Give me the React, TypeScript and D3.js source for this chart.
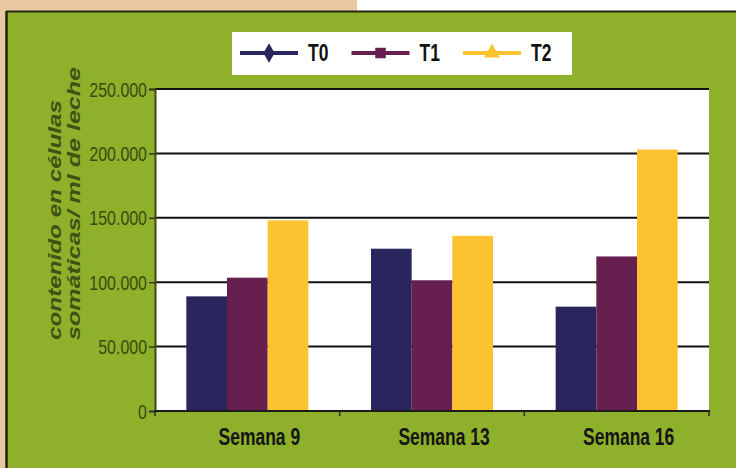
import { useEffect, useRef } from 'react';
import * as d3 from 'd3';

// ── Data ────────────────────────────────────────────────────────────────────
const categories = ['Semana 9', 'Semana 13', 'Semana 16'];
const series = ['T0', 'T1', 'T2'];
const t0Values = [89000, 126000, 81000];
const t1Values = [103500, 101500, 120000];
const t2Values = [148000, 136000, 203000];
const yTicks = [0, 50000, 100000, 150000, 200000, 250000];
const yTitle = ['contenido en células', 'somáticas/ ml de leche'];

const COLORS: Record<string, string> = { T0: '#29265e', T1: '#661f4e', T2: '#fcc230' };
const W = 736;
const H = 468;
const FONT = "'Liberation Sans', Arial, sans-serif";
const NARROW = 0.76; // horizontal squeeze to mimic Arial Narrow

const fmtTick = (v: number) => (v === 0 ? '0' : d3.format(',')(v).replace(/,/g, '.'));

export default function App() {
  const svgRef = useRef<SVGSVGElement>(null);

  useEffect(() => {
    if (!svgRef.current) return;
    document.body.style.margin = '0';
    const svg = d3.select(svgRef.current);
    svg.selectAll('*').remove();

    // ── Background (scan frame + green panel) ───────────────────────────────
    svg.append('rect').attr('width', W).attr('height', H).attr('fill', '#ffffff');
    svg.append('rect').attr('x', 0).attr('y', 0).attr('width', 357).attr('height', 12).attr('fill', '#e9c9a2');
    svg.append('rect').attr('x', 0).attr('y', 0).attr('width', 7).attr('height', H).attr('fill', '#e9c9a2');
    svg.append('rect').attr('x', 7).attr('y', 12).attr('width', W - 7).attr('height', H - 12).attr('fill', '#8fb02b');
    svg.append('line').attr('x1', 6).attr('x2', W).attr('y1', 11.5).attr('y2', 11.5)
      .attr('stroke', '#23240e').attr('stroke-width', 2);
    svg.append('line').attr('x1', 6.5).attr('x2', 6.5).attr('y1', 11).attr('y2', H)
      .attr('stroke', '#23240e').attr('stroke-width', 2.5);

    // ── Scales ──────────────────────────────────────────────────────────────
    const M = { left: 155, right: 709, top: 89, bottom: 411 };
    const x0 = d3.scaleBand<string>().domain(categories).range([M.left, M.right]);
    const x1 = d3.scaleBand<string>().domain(series).range([0, x0.bandwidth()])
      .paddingInner(0).paddingOuter(0.77);
    const y = d3.scaleLinear().domain([0, 250000]).range([M.bottom, M.top]);

    // plot area
    svg.append('rect')
      .attr('x', M.left).attr('y', M.top)
      .attr('width', M.right - M.left).attr('height', M.bottom - M.top)
      .attr('fill', '#ffffff');

    // gridlines
    svg.append('g')
      .selectAll('line')
      .data(yTicks.filter(t => t > 0))
      .join('line')
      .attr('x1', M.left).attr('x2', M.right)
      .attr('y1', d => y(d)).attr('y2', d => y(d))
      .attr('stroke', '#111111').attr('stroke-width', 2);

    // ── Bars ────────────────────────────────────────────────────────────────
    const valuesBySeries: Record<string, number[]> = { T0: t0Values, T1: t1Values, T2: t2Values };
    const groups = svg.append('g')
      .selectAll('g')
      .data(categories)
      .join('g')
      .attr('transform', d => `translate(${x0(d)},0)`);

    groups.selectAll('rect')
      .data((_, i) => series.map(s => ({ s, v: valuesBySeries[s][i] })))
      .join('rect')
      .attr('x', d => x1(d.s)!)
      .attr('width', x1.bandwidth())
      .attr('y', d => y(d.v))
      .attr('height', d => y(0) - y(d.v))
      .attr('fill', d => COLORS[d.s]);

    // ── Y axis ──────────────────────────────────────────────────────────────
    svg.append('g')
      .attr('transform', `translate(${M.left},0)`)
      .call(d3.axisLeft(y).tickValues(yTicks).tickSize(6).tickFormat(() => ''))
      .call(g => g.select('.domain').attr('stroke', '#3d4a12').attr('stroke-width', 2))
      .call(g => g.selectAll('.tick line').attr('stroke', '#2e3a0e').attr('stroke-width', 1.5));

    svg.append('g')
      .selectAll('text')
      .data(yTicks)
      .join('text')
      .attr('transform', d => `translate(${M.left - 8},${y(d)}) scale(${NARROW},1)`)
      .attr('dy', '0.36em')
      .attr('text-anchor', 'end')
      .attr('font-family', FONT).attr('font-size', 21)
      .attr('fill', '#3a4a10')
      .text(d => fmtTick(d));

    // ── X axis ──────────────────────────────────────────────────────────────
    svg.append('line')
      .attr('x1', M.left - 1).attr('x2', M.right + 1)
      .attr('y1', M.bottom).attr('y2', M.bottom)
      .attr('stroke', '#1a1a1a').attr('stroke-width', 2);
    const bounds = [...categories.map(c => x0(c)!), M.right];
    svg.append('g')
      .selectAll('line')
      .data(bounds)
      .join('line')
      .attr('x1', d => d).attr('x2', d => d)
      .attr('y1', M.bottom).attr('y2', M.bottom + 5)
      .attr('stroke', '#2a2a2a').attr('stroke-width', 1.5);

    svg.append('g')
      .selectAll('text')
      .data(categories)
      .join('text')
      .attr('transform', d => `translate(${x0(d)! + x0.bandwidth() / 2 + 12},445) scale(${NARROW},1)`)
      .attr('text-anchor', 'middle')
      .attr('font-family', FONT).attr('font-weight', 'bold').attr('font-size', 23)
      .attr('fill', '#151515')
      .text(d => d);

    // ── Y title (rotated, two lines) ────────────────────────────────────────
    const titleX = [61, 80];
    const titleLen = [240, 273];
    yTitle.forEach((line, i) => {
      svg.append('text')
        .attr('transform', `translate(${titleX[i]},340) rotate(-90)`)
        .attr('text-anchor', 'start')
        .attr('font-family', FONT)
        .attr('font-style', 'italic').attr('font-weight', 'bold')
        .attr('font-size', 18)
        .attr('textLength', titleLen[i]).attr('lengthAdjust', 'spacingAndGlyphs')
        .attr('fill', '#3f5214')
        .text(line);
    });

    // ── Legend ──────────────────────────────────────────────────────────────
    svg.append('rect')
      .attr('x', 232).attr('y', 32).attr('width', 340).attr('height', 43)
      .attr('fill', '#ffffff');
    const lx = d3.scaleLinear().domain([0, 1]).range([240, 351.5]);
    const ly = 53;
    const leg = svg.append('g')
      .selectAll('g')
      .data(series)
      .join('g')
      .attr('transform', (_, i) => `translate(${lx(i)},${ly})`);

    leg.append('line')
      .attr('x1', 0).attr('x2', 58).attr('y1', 0).attr('y2', 0)
      .attr('stroke', d => COLORS[d]).attr('stroke-width', 4);

    const symbolType: Record<string, d3.SymbolType> = {
      T0: d3.symbolDiamond, T1: d3.symbolSquare, T2: d3.symbolTriangle,
    };
    leg.append('path')
      .attr('transform', 'translate(29,0)')
      .attr('d', d => d3.symbol(symbolType[d], 110)())
      .attr('fill', d => COLORS[d]);

    leg.append('text')
      .attr('transform', `translate(68,8) scale(${NARROW},1)`)
      .attr('font-family', FONT).attr('font-weight', 'bold').attr('font-size', 23)
      .attr('fill', '#111111')
      .text(d => d);
  }, []);

  return (
    <svg
      ref={svgRef}
      width={W}
      height={H}
      style={{ position: 'absolute', left: 0, top: 0, display: 'block' }}
    />
  );
}
